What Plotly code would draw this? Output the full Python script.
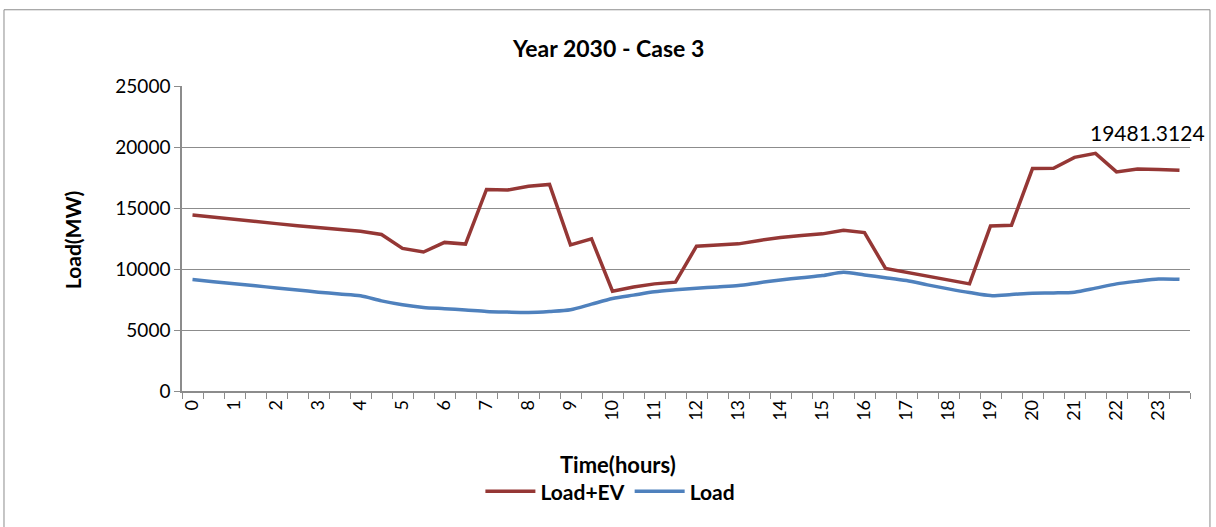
import plotly.graph_objects as go

# half-hour time slots (hours)
hours = [0, 0.5, 1, 1.5, 2, 2.5, 3, 3.5, 4, 4.5, 5, 5.5,
         6, 6.5, 7, 7.5, 8, 8.5, 9, 9.5, 10, 10.5, 11, 11.5,
         12, 12.5, 13, 13.5, 14, 14.5, 15, 15.5, 16, 16.5, 17, 17.5,
         18, 18.5, 19, 19.5, 20, 20.5, 21, 21.5, 22, 22.5, 23, 23.5]

load_ev = [14430, 14270, 14100, 13920, 13720, 13540, 13370, 13230, 13100, 12830, 11690, 11390,
           12180, 12040, 16520, 16470, 16790, 16930, 11980, 12470, 8180, 8530, 8780, 8920,
           11870, 11960, 12060, 12340, 12580, 12740, 12880, 13180, 12990, 10050, 9730, 9350,
           9050, 8780, 13530, 13590, 18230, 18260, 19150, 19481.3124, 17960, 18200, 18150, 18100]

load = [9130, 8960, 8800, 8620, 8450, 8280, 8100, 7950, 7800, 7390, 7070, 6850,
        6750, 6640, 6520, 6470, 6440, 6520, 6660, 7120, 7580, 7860, 8130, 8290,
        8420, 8530, 8640, 8880, 9100, 9290, 9460, 9730, 9510, 9290, 9050, 8700,
        8370, 8070, 7820, 7910, 8020, 8040, 8100, 8430, 8780, 9000, 9180, 9160]

hour_labels = list(range(24))
peak_idx = load_ev.index(max(load_ev))

FONT = "Lato, Carlito, Calibri, sans-serif"
GRID = "#8c8c8c"

fig = go.Figure()
fig.add_trace(go.Scatter(x=hours, y=load_ev, mode="lines", name="Load+EV",
                         line=dict(color="#953735", width=3.5)))
fig.add_trace(go.Scatter(x=hours, y=load, mode="lines", name="Load",
                         line=dict(color="#4F81BD", width=3.5, shape="spline", smoothing=0.8)))

fig.add_annotation(x=hours[peak_idx], y=load_ev[peak_idx], text=f"{load_ev[peak_idx]:.4f}",
                   showarrow=False, xanchor="left", yanchor="bottom", xshift=-8, yshift=6,
                   font=dict(family=FONT, size=21, color="black"))

# titles
fig.add_annotation(x=0.4226, y=1.126, xref="paper", yref="paper", text="<b>Year 2030 - Case 3</b>",
                   showarrow=False, xanchor="center", yanchor="middle",
                   font=dict(family=FONT, size=23, color="black"))
fig.add_annotation(x=-0.109, y=0.495, xref="paper", yref="paper", text="<b>Load(MW)</b>",
                   showarrow=False, textangle=-90, xanchor="center", yanchor="middle",
                   font=dict(family=FONT, size=21, color="black"))
fig.add_annotation(x=0.4325, y=-0.241, xref="paper", yref="paper", text="<b>Time(hours)</b>",
                   showarrow=False, xanchor="center", yanchor="middle",
                   font=dict(family=FONT, size=22, color="black"))

# chart-area border
fig.add_shape(type="rect", xref="paper", yref="paper", x0=-0.1766, x1=1.0198, y0=-0.5, y1=1.250,
              line=dict(color="#8c8c8c", width=1), layer="below")

fig.update_layout(
    width=1216, height=527,
    margin=dict(l=182, r=26, t=86, b=136),
    paper_bgcolor="white", plot_bgcolor="white",
    font=dict(family=FONT, size=18, color="black"),
    showlegend=True,
    legend=dict(orientation="h", x=0.425, y=-0.33, xanchor="center", yanchor="middle",
                font=dict(family=FONT, size=21, color="black", weight="bold"),
                itemwidth=50, tracegroupgap=0),
)

fig.update_xaxes(range=[-0.25, 23.75], tickvals=hour_labels, ticktext=[str(h) for h in hour_labels],
                 tickangle=-90, ticks="", showgrid=False, zeroline=False,
                 showline=True, linecolor=GRID, linewidth=1.5,
                 minor=dict(ticks="outside", tick0=-0.25, dtick=0.5, ticklen=6,
                            tickcolor=GRID, showgrid=False),
                 tickfont=dict(family=FONT, size=18))
fig.update_yaxes(range=[0, 25000], dtick=5000, tickformat="d", showgrid=True, gridcolor=GRID,
                 gridwidth=1.2, zeroline=False, showline=True, linecolor=GRID, linewidth=1.5,
                 ticks="outside", ticklen=6, tickcolor=GRID,
                 tickfont=dict(family=FONT, size=19))

fig.write_html("out.html", config={"displayModeBar": False},
               post_script="document.body.style.margin='0';")
